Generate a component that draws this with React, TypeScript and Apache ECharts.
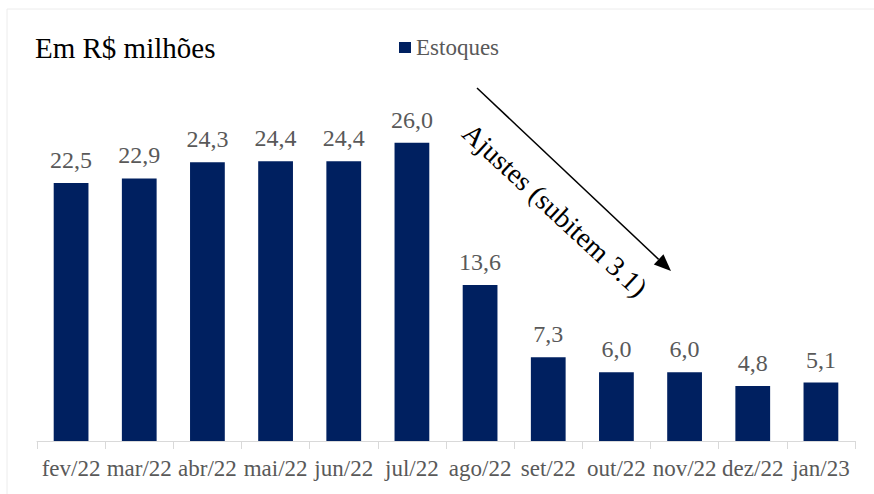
import React, { useEffect, useRef } from "react";
import * as echarts from "echarts";

const categories = ["fev/22", "mar/22", "abr/22", "mai/22", "jun/22", "jul/22", "ago/22", "set/22", "out/22", "nov/22", "dez/22", "jan/23"];
const estoques = [22.5, 22.9, 24.3, 24.4, 24.4, 26.0, 13.6, 7.3, 6.0, 6.0, 4.8, 5.1];

const FONT = "Liberation Serif, Times New Roman, serif";

export default function App() {
  const ref = useRef<HTMLDivElement>(null);
  useEffect(() => {
    if (!ref.current) return;
    const chart = echarts.init(ref.current, null, { renderer: "svg" });
    const ang = Math.atan2(271 - 88, 671 - 477);
    const tipX = 671, tipY = 271, L = 17, W = 7;
    const bx = tipX - L * Math.cos(ang), by = tipY - L * Math.sin(ang);
    const px = -Math.sin(ang), py = Math.cos(ang);
    chart.setOption({
      animation: false,
      textStyle: { fontFamily: FONT },
      title: {
        text: "Em R$ milhões",
        left: 35,
        top: 33,
        padding: 0,
        textStyle: { fontFamily: FONT, fontSize: 29, fontWeight: "normal", color: "#000" },
      },
      legend: {
        data: ["Estoques"],
        left: 399,
        top: 36,
        padding: 0,
        icon: "rect",
        itemWidth: 12,
        itemHeight: 11,
        textStyle: { fontFamily: FONT, fontSize: 23, color: "#595959" },
      },
      grid: { left: 37, right: 19, top: 97, bottom: 53, containLabel: false },
      xAxis: {
        type: "category",
        data: categories,
        axisLine: { lineStyle: { color: "#d9d9d9", width: 1 } },
        axisTick: { show: true, alignWithLabel: false, length: 8, lineStyle: { color: "#d9d9d9" } },
        axisLabel: { fontFamily: FONT, fontSize: 23, color: "#595959", margin: 16, interval: 0 },
      },
      yAxis: {
        type: "value",
        min: 0,
        max: 30,
        show: false,
        splitLine: { show: false },
      },
      series: [
        {
          name: "Estoques",
          type: "bar",
          data: estoques,
          barWidth: "51%",
          itemStyle: { color: "#002060" },
          label: {
            show: true,
            position: "top",
            distance: 11,
            fontFamily: FONT,
            fontSize: 24,
            color: "#595959",
            formatter: (p: any) => p.value.toFixed(1).replace(".", ","),
          },
        },
      ],
      graphic: [
        {
          type: "rect",
          shape: { x: 7, y: 9, width: 900, height: 500 },
          style: { fill: "none", stroke: "#ececec", lineWidth: 1 },
          silent: true,
          z: -10,
        },
        {
          type: "line",
          shape: { x1: 477, y1: 88, x2: bx, y2: by },
          style: { stroke: "#000", lineWidth: 1.5 },
        },
        {
          type: "polygon",
          shape: { points: [[tipX, tipY], [bx + px * W, by + py * W], [bx - px * W, by - py * W]] },
          style: { fill: "#000" },
        },
        {
          type: "text",
          x: 555,
          y: 210,
          rotation: -ang + 0.01,
          style: {
            text: "Ajustes (subitem 3.1)",
            fontFamily: FONT,
            fontSize: 28,
            fill: "#000",
            align: "center",
            verticalAlign: "middle",
          },
        },
      ],
    });
    return () => chart.dispose();
  }, []);
  return <div ref={ref} style={{ position: "fixed", left: 0, top: 0, width: 874, height: 494, background: "#fff" }} />;
}
